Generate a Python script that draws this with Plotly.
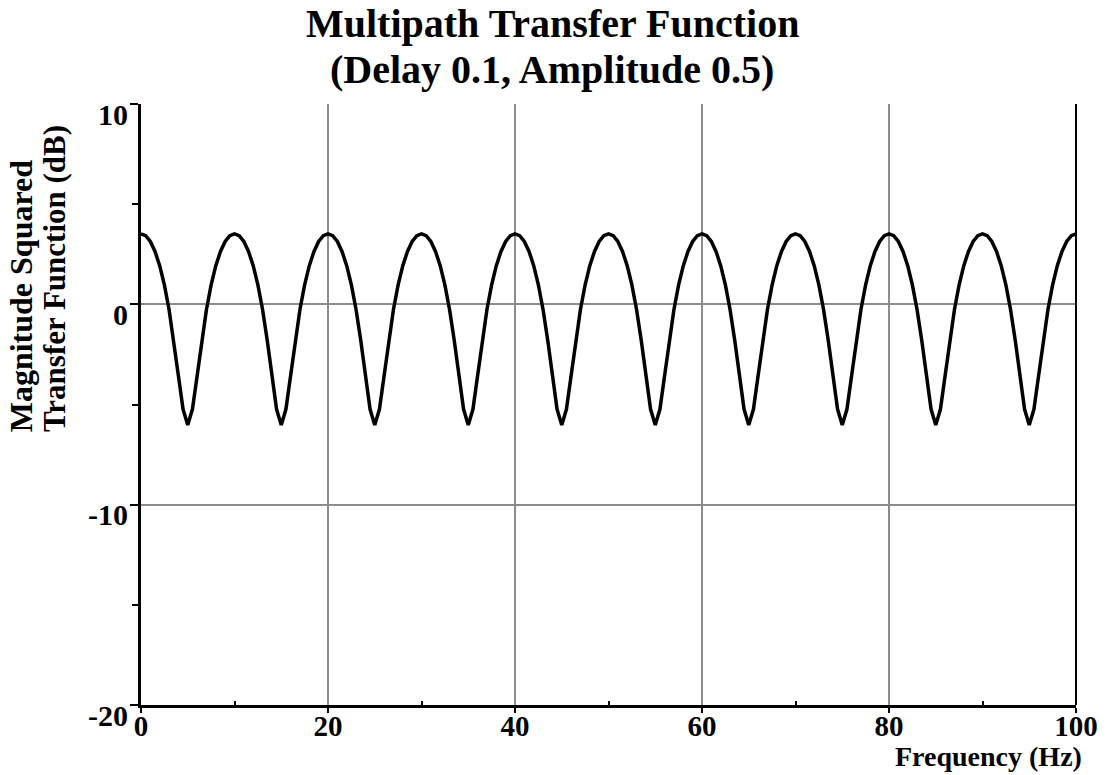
import plotly.graph_objects as go

# Frequency grid (Hz), 0.5 Hz steps
freq = [
    0.0, 0.5, 1.0, 1.5, 2.0, 2.5, 3.0, 3.5, 4.0, 4.5, 5.0, 5.5, 6.0, 6.5, 7.0, 7.5, 8.0, 8.5, 9.0, 9.5,
    10.0, 10.5, 11.0, 11.5, 12.0, 12.5, 13.0, 13.5, 14.0, 14.5, 15.0, 15.5, 16.0, 16.5, 17.0, 17.5, 18.0, 18.5, 19.0, 19.5,
    20.0, 20.5, 21.0, 21.5, 22.0, 22.5, 23.0, 23.5, 24.0, 24.5, 25.0, 25.5, 26.0, 26.5, 27.0, 27.5, 28.0, 28.5, 29.0, 29.5,
    30.0, 30.5, 31.0, 31.5, 32.0, 32.5, 33.0, 33.5, 34.0, 34.5, 35.0, 35.5, 36.0, 36.5, 37.0, 37.5, 38.0, 38.5, 39.0, 39.5,
    40.0, 40.5, 41.0, 41.5, 42.0, 42.5, 43.0, 43.5, 44.0, 44.5, 45.0, 45.5, 46.0, 46.5, 47.0, 47.5, 48.0, 48.5, 49.0, 49.5,
    50.0, 50.5, 51.0, 51.5, 52.0, 52.5, 53.0, 53.5, 54.0, 54.5, 55.0, 55.5, 56.0, 56.5, 57.0, 57.5, 58.0, 58.5, 59.0, 59.5,
    60.0, 60.5, 61.0, 61.5, 62.0, 62.5, 63.0, 63.5, 64.0, 64.5, 65.0, 65.5, 66.0, 66.5, 67.0, 67.5, 68.0, 68.5, 69.0, 69.5,
    70.0, 70.5, 71.0, 71.5, 72.0, 72.5, 73.0, 73.5, 74.0, 74.5, 75.0, 75.5, 76.0, 76.5, 77.0, 77.5, 78.0, 78.5, 79.0, 79.5,
    80.0, 80.5, 81.0, 81.5, 82.0, 82.5, 83.0, 83.5, 84.0, 84.5, 85.0, 85.5, 86.0, 86.5, 87.0, 87.5, 88.0, 88.5, 89.0, 89.5,
    90.0, 90.5, 91.0, 91.5, 92.0, 92.5, 93.0, 93.5, 94.0, 94.5, 95.0, 95.5, 96.0, 96.5, 97.0, 97.5, 98.0, 98.5, 99.0, 99.5,
    100.0,
]

# Magnitude squared of the transfer function (dB)
mag_db = [
    3.52, 3.43, 3.14, 2.64, 1.93, 0.97, -0.26, -1.79, -3.56, -5.24, -6.02, -5.24, -3.56, -1.79, -0.26, 0.97, 1.93, 2.64, 3.14, 3.43,
    3.52, 3.43, 3.14, 2.64, 1.93, 0.97, -0.26, -1.79, -3.56, -5.24, -6.02, -5.24, -3.56, -1.79, -0.26, 0.97, 1.93, 2.64, 3.14, 3.43,
    3.52, 3.43, 3.14, 2.64, 1.93, 0.97, -0.26, -1.79, -3.56, -5.24, -6.02, -5.24, -3.56, -1.79, -0.26, 0.97, 1.93, 2.64, 3.14, 3.43,
    3.52, 3.43, 3.14, 2.64, 1.93, 0.97, -0.26, -1.79, -3.56, -5.24, -6.02, -5.24, -3.56, -1.79, -0.26, 0.97, 1.93, 2.64, 3.14, 3.43,
    3.52, 3.43, 3.14, 2.64, 1.93, 0.97, -0.26, -1.79, -3.56, -5.24, -6.02, -5.24, -3.56, -1.79, -0.26, 0.97, 1.93, 2.64, 3.14, 3.43,
    3.52, 3.43, 3.14, 2.64, 1.93, 0.97, -0.26, -1.79, -3.56, -5.24, -6.02, -5.24, -3.56, -1.79, -0.26, 0.97, 1.93, 2.64, 3.14, 3.43,
    3.52, 3.43, 3.14, 2.64, 1.93, 0.97, -0.26, -1.79, -3.56, -5.24, -6.02, -5.24, -3.56, -1.79, -0.26, 0.97, 1.93, 2.64, 3.14, 3.43,
    3.52, 3.43, 3.14, 2.64, 1.93, 0.97, -0.26, -1.79, -3.56, -5.24, -6.02, -5.24, -3.56, -1.79, -0.26, 0.97, 1.93, 2.64, 3.14, 3.43,
    3.52, 3.43, 3.14, 2.64, 1.93, 0.97, -0.26, -1.79, -3.56, -5.24, -6.02, -5.24, -3.56, -1.79, -0.26, 0.97, 1.93, 2.64, 3.14, 3.43,
    3.52, 3.43, 3.14, 2.64, 1.93, 0.97, -0.26, -1.79, -3.56, -5.24, -6.02, -5.24, -3.56, -1.79, -0.26, 0.97, 1.93, 2.64, 3.14, 3.43,
    3.52,
]

x_ticks = [0, 20, 40, 60, 80, 100]
y_ticks = [-20, -10, 0, 10]

FONT = "Liberation Serif"
BLACK = "black"
GRID = "#8c8c8c"

fig = go.Figure()
fig.add_trace(go.Scatter(
    x=freq, y=mag_db, mode="lines",
    line=dict(color=BLACK, width=3.5),
    showlegend=False, hoverinfo="skip",
))

L, R, T, B = 141, 28, 104, 70
W, H = 1110, 775
pw, ph = W - L - R, H - T - B


def px_x(x):
    return (x - L) / pw


def px_y(y):
    return (H - B - y) / ph


fig.update_layout(
    width=W, height=H,
    margin=dict(l=L, r=R, t=T, b=B),
    paper_bgcolor="white", plot_bgcolor="white",
    font=dict(family=FONT, color=BLACK),
)

fig.update_xaxes(
    range=[0, 100], tickvals=x_ticks,
    ticktext=[f"<b>{v}</b>" for v in x_ticks],
    tickfont=dict(family=FONT, size=29, color=BLACK),
    ticklabelstandoff=-12,
    showgrid=True, gridcolor=GRID, gridwidth=2,
    showline=True, linecolor=BLACK, linewidth=3,
    ticks="outside", ticklen=5, tickwidth=2, tickcolor=BLACK,
    minor=dict(tickvals=[10, 30, 50, 70, 90], ticks="inside", ticklen=4,
               tickwidth=2, tickcolor=BLACK, showgrid=False),
    zeroline=False,
)
fig.update_yaxes(
    range=[-20, 10], tickvals=y_ticks,
    ticktext=[f"<b>{v}</b>" for v in y_ticks],
    tickfont=dict(family=FONT, size=30, color=BLACK),
    ticklabelshift=10, ticklabelstandoff=-4,
    showgrid=True, gridcolor=GRID, gridwidth=2,
    showline=True, linecolor=BLACK, linewidth=3,
    ticks="outside", ticklen=8, tickwidth=2, tickcolor=BLACK,
    minor=dict(tickvals=[-15, -5, 5], ticks="outside", ticklen=6,
               tickwidth=2, tickcolor=BLACK, showgrid=False),
    zeroline=False,
)

# Right-hand frame edge
fig.add_shape(type="line", xref="x domain", yref="y domain",
              x0=1, x1=1, y0=0, y1=1, line=dict(color=BLACK, width=2))

# Two-line title, centred on the page
fig.add_annotation(
    text="<b>Multipath Transfer Function</b>", xref="paper", yref="paper",
    x=px_x(W / 2), y=px_y(24), xanchor="center", yanchor="middle",
    showarrow=False, font=dict(family=FONT, size=40, color=BLACK),
)
fig.add_annotation(
    text="<b>(Delay 0.1, Amplitude 0.5)</b>", xref="paper", yref="paper",
    x=px_x(W / 2), y=px_y(69), xanchor="center", yanchor="middle",
    showarrow=False, font=dict(family=FONT, size=40, color=BLACK),
)

# Axis titles
fig.add_annotation(
    text="<b>Frequency (Hz)</b>", xref="paper", yref="paper",
    x=px_x(1090), y=px_y(756), xanchor="right", yanchor="middle", showarrow=False,
    font=dict(family=FONT, size=28, color=BLACK),
)
fig.add_annotation(
    text="<b>Magnitude Squared</b>",
    xref="paper", yref="paper", x=px_x(20), y=px_y(434),
    xanchor="center", yanchor="bottom",
    textangle=-90, showarrow=False,
    font=dict(family=FONT, size=32, color=BLACK),
)
fig.add_annotation(
    text="<b>Transfer Function (dB)</b>",
    xref="paper", yref="paper", x=px_x(54), y=px_y(434),
    xanchor="center", yanchor="bottom",
    textangle=-90, showarrow=False,
    font=dict(family=FONT, size=31, color=BLACK),
)

fig.write_html("out.html")
